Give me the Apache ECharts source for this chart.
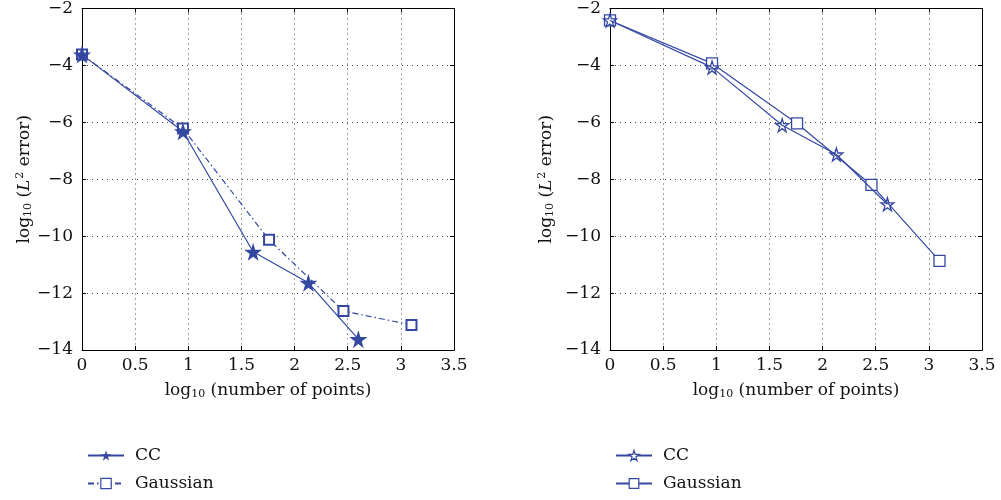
<!DOCTYPE html>
<html>
<head>
<meta charset="utf-8">
<script src="https://cdn.jsdelivr.net/npm/echarts@6/dist/echarts.min.js"></script>
<style>
  html, body { margin: 0; padding: 0; background: #fff; }
  #main { width: 1001px; height: 500px; }
</style>
</head>
<body>
<div id="main"></div>
<script>
// left panel
var ccLeftX = [0, 0.95, 1.61, 2.13, 2.6];
var ccLeftY = [-3.62, -6.32, -10.55, -11.64, -13.62];
var gaussLeftX = [0, 0.95, 1.76, 2.46, 3.1];
var gaussLeftY = [-3.62, -6.22, -10.13, -12.63, -13.12];
// right panel
var ccRightX = [0, 0.96, 1.62, 2.13, 2.61];
var ccRightY = [-2.42, -4.07, -6.1, -7.13, -8.88];
var gaussRightX = [0, 0.96, 1.76, 2.46, 3.1];
var gaussRightY = [-2.42, -3.93, -6.04, -8.2, -10.87];

var blue = '#3448a2';
var font = '"DejaVu Serif", "Liberation Serif", serif';
var star = 'path://M50,0 L61,35 L98,35 L68,57 L79,91 L50,70 L21,91 L32,57 L2,35 L39,35 Z';

function pairs(xs, ys) {
  return xs.map(function (x, i) { return [x, ys[i]]; });
}

var chart = echarts.init(document.getElementById('main'));

var tick = { show: true, inside: true, length: 4, lineStyle: { color: '#000' } };
var frame = { show: true, onZero: false, lineStyle: { color: '#000', width: 1 } };

function xAxis(idx) {
  return {
    type: 'value', gridIndex: idx, min: 0, max: 3.5, interval: 0.5,
    name: '{a|log}{s|10}{a| (number of points)}',
    nameLocation: 'middle', nameGap: 32,
    nameTextStyle: {
      rich: {
        a: { fontFamily: font, fontSize: 17, color: '#111' },
        s: { fontFamily: font, fontSize: 11, color: '#111', padding: [7, 0, 0, 0] }
      }
    },
    axisLine: frame,
    axisTick: tick,
    axisLabel: { fontFamily: font, fontSize: 17, color: '#111', margin: 7 },
    splitLine: { show: true, lineStyle: { color: '#444', type: [1, 4], width: 1 } }
  };
}

function yAxis(idx, gap) {
  return {
    type: 'value', gridIndex: idx, min: -14, max: -2, interval: 2,
    name: '{a|log}{s|10}{a| (}{i|L}{p|2}{a| error)}',
    nameLocation: 'middle', nameGap: gap, nameRotate: 90,
    nameTextStyle: {
      rich: {
        a: { fontFamily: font, fontSize: 17, color: '#111' },
        i: { fontFamily: font, fontSize: 17, color: '#111', fontStyle: 'italic' },
        s: { fontFamily: font, fontSize: 11, color: '#111', padding: [7, 0, 0, 0] },
        p: { fontFamily: font, fontSize: 11, color: '#111', padding: [0, 0, 9, 1] }
      }
    },
    axisLine: frame,
    axisTick: tick,
    axisLabel: {
      fontFamily: font, fontSize: 17, color: '#111', margin: 9,
      formatter: function (v) { return String(v).replace('-', '\u2212'); }
    },
    splitLine: { show: true, lineStyle: { color: '#444', type: [1, 4], width: 1 } }
  };
}

// mirrored ticks on the top and right edges of each box
function mirror(kind, idx) {
  var a = kind === 'x'
    ? { type: 'value', gridIndex: idx, min: 0, max: 3.5, interval: 0.5, position: 'top' }
    : { type: 'value', gridIndex: idx, min: -14, max: -2, interval: 2, position: 'right' };
  a.axisLine = frame;
  a.axisTick = tick;
  a.axisLabel = { show: false };
  a.splitLine = { show: false };
  return a;
}

function legend(left, top, name, label, h, style) {
  return {
    left: left, top: top,
    itemWidth: 36, itemHeight: h,
    itemStyle: style,
    textStyle: { fontFamily: font, fontSize: 17, color: '#111', padding: [0, 0, 0, 6] },
    formatter: function () { return label; },
    data: [name]
  };
}

var hollow = { color: '#fff', borderColor: blue, borderWidth: 1.2 };

var option = {
  backgroundColor: '#fff',
  animation: false,
  grid: [
    { left: 82, top: 7, width: 372, height: 343 },
    { left: 610, top: 7, width: 372, height: 343 }
  ],
  xAxis: [xAxis(0), xAxis(1), mirror('x', 0), mirror('x', 1)],
  yAxis: [yAxis(0, 47), yAxis(1, 53), mirror('y', 0), mirror('y', 1)],
  legend: [
    legend(82, 442, 'CC', 'CC', 13, { color: blue, borderWidth: 0 }),
    legend(82, 470, 'Gaussian', 'Gaussian', 13, hollow),
    legend(610, 442, 'CC ', 'CC', 13, hollow),
    legend(610, 470, 'Gaussian ', 'Gaussian', 12, hollow)
  ],
  series: [
    {
      name: 'CC', type: 'line', xAxisIndex: 0, yAxisIndex: 0,
      data: pairs(ccLeftX, ccLeftY),
      symbol: star, symbolSize: 18, z: 3,
      lineStyle: { color: blue, width: 1.2 },
      itemStyle: { color: blue }
    },
    {
      name: 'Gaussian', type: 'line', xAxisIndex: 0, yAxisIndex: 0,
      data: pairs(gaussLeftX, gaussLeftY),
      symbol: 'rect', symbolSize: 10, z: 2,
      lineStyle: { color: blue, width: 1.2, type: [6, 3, 1.5, 3] },
      itemStyle: { color: '#fff', borderColor: blue, borderWidth: 2 }
    },
    {
      name: 'CC ', type: 'line', xAxisIndex: 1, yAxisIndex: 1,
      data: pairs(ccRightX, ccRightY),
      symbol: star, symbolSize: 13, z: 3,
      lineStyle: { color: blue, width: 1.2 },
      itemStyle: { color: 'rgba(255,255,255,0)', borderColor: blue, borderWidth: 1.3 }
    },
    {
      name: 'Gaussian ', type: 'line', xAxisIndex: 1, yAxisIndex: 1,
      data: pairs(gaussRightX, gaussRightY),
      symbol: 'rect', symbolSize: 11, z: 2,
      lineStyle: { color: blue, width: 1.2 },
      itemStyle: { color: '#fff', borderColor: blue, borderWidth: 1.3 }
    }
  ]
};

chart.setOption(option);
</script>
</body>
</html>
